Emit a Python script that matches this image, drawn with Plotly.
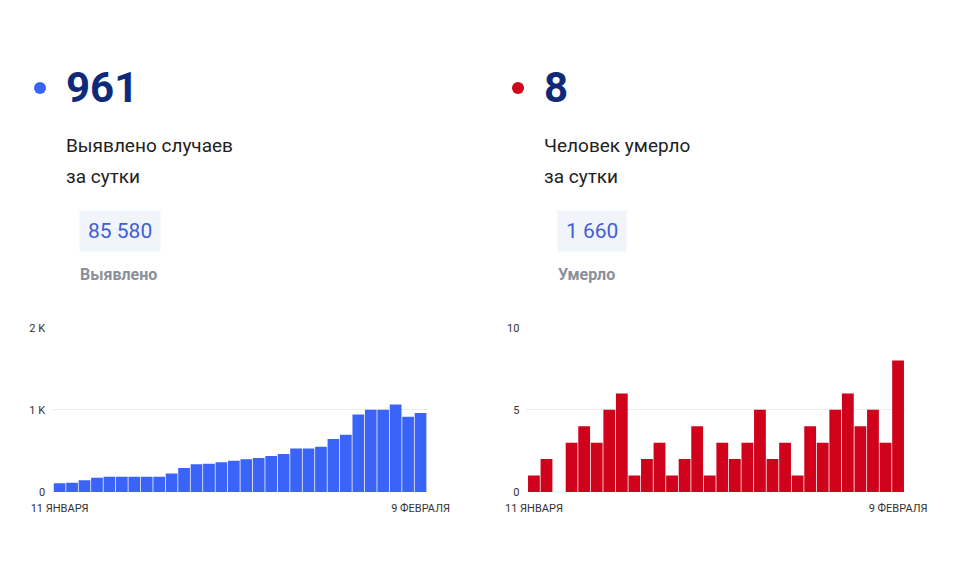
import plotly.graph_objects as go

days = list(range(1, 31))
cases = [105,113,142,174,186,186,186,186,186,223,291,336,344,360,381,397,413,437,462,530,530,551,644,696,943,1000,1000,1065,915,961]
deaths = [1,2,0,3,4,3,5,6,1,2,3,1,2,4,1,3,2,3,5,2,3,1,4,3,5,6,4,5,3,8]
x_labels = ["11 ЯНВАРЯ", "9 ФЕВРАЛЯ"]
left_ticks = [0, 1000, 2000]
left_ticktext = ["0", "1 K", "2 K"]
right_ticks = [0, 5, 10]

fig = go.Figure()
fig.add_bar(x=days, y=cases, marker=dict(color="#3a63f7", line=dict(width=0)), xaxis="x", yaxis="y")
fig.add_bar(x=days, y=deaths, marker=dict(color="#d0021b", line=dict(width=0)), xaxis="x2", yaxis="y2")

ax = dict(showgrid=False, zeroline=False, tickmode="array", ticks="", showline=False, automargin=False,
          ticklabelstandoff=8,
          tickfont=dict(family="Roboto", size=11, color="#333"), range=[0.4, 30.6])
ay = dict(showgrid=True, gridcolor="#ececec", zeroline=False, ticks="", automargin=False,
          ticklabelstandoff=6,
          tickfont=dict(family="Roboto", size=11, color="#333"))
fig.update_layout(
    width=960, height=564, margin=dict(l=0, r=0, t=0, b=0, autoexpand=False),
    paper_bgcolor="white", plot_bgcolor="white", showlegend=False, bargap=0.06,
    xaxis=dict(ax, domain=[0.046, 0.4375], anchor="y", tickvals=[1, 30], ticktext=x_labels),
    yaxis=dict(ay, domain=[0.142, 0.433], anchor="x", range=[0, 2000], tickvals=left_ticks, ticktext=left_ticktext),
    xaxis2=dict(ax, domain=[0.54, 0.935], anchor="y2", tickvals=[1, 30], ticktext=x_labels),
    yaxis2=dict(ay, domain=[0.142, 0.433], anchor="x2", range=[0, 10], tickvals=right_ticks),
)

def px(x, y, text, size, color, bold=False, bg=None, pad=0):
    fig.add_annotation(xref="paper", yref="paper", x=x/960, y=1-y/564, text=f"<b>{text}</b>" if bold else text,
                       showarrow=False, xanchor="left", yanchor="middle",
                       font=dict(family="Roboto", size=size, color=color),
                       bgcolor=bg, borderpad=pad)

for cx, dot, big, l1, box, lab in [
    (25, "#3a63f7", "961", "Выявлено случаев", "85 580", "Выявлено"),
    (503, "#d0021b", "8", "Человек умерло", "1 660", "Умерло")]:
    fig.add_shape(type="circle", xref="paper", yref="paper", x0=(cx+1)/960, x1=(cx+13)/960,
                  y0=1-86/564, y1=1-74/564, fillcolor=dot, line=dict(width=0))
    px(cx+32, 80, big, 42, "#0e2a78", bold=True)
    px(cx+32, 137, l1, 19, "#222")
    px(cx+32, 168, "за сутки", 19, "#222")
    px(cx+46, 223, box, 21, "#3f5fd6", bg="#f1f4fb", pad=8)
    px(cx+46, 266, lab, 16, "#8a8f99", bold=True)

fig.write_html("out.html")
